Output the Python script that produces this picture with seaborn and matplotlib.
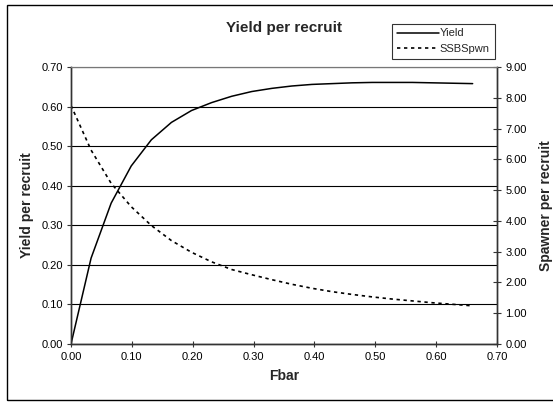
import matplotlib
matplotlib.use("Agg")
import matplotlib.pyplot as plt
import seaborn as sns
import pandas as pd
from matplotlib.patches import Rectangle

fbar = [0.000, 0.033, 0.066, 0.099, 0.132, 0.165, 0.198, 0.231, 0.264, 0.297,
        0.330, 0.363, 0.396, 0.429, 0.462, 0.495, 0.528, 0.561, 0.594, 0.627, 0.660]
yield_per_recruit = [0.000, 0.217, 0.356, 0.450, 0.516, 0.560, 0.590, 0.610, 0.626, 0.638,
                     0.646, 0.652, 0.656, 0.658, 0.660, 0.661, 0.661, 0.661, 0.660, 0.659, 0.658]
ssb_per_recruit = [7.75, 6.30, 5.22, 4.46, 3.85, 3.36, 2.98, 2.67, 2.42, 2.25,
                   2.09, 1.94, 1.81, 1.70, 1.61, 1.53, 1.46, 1.40, 1.34, 1.29, 1.24]

left_ticks = [0.0, 0.1, 0.2, 0.3, 0.4, 0.5, 0.6, 0.7]
right_ticks = [0, 1, 2, 3, 4, 5, 6, 7, 8, 9]
x_ticks = [0.0, 0.1, 0.2, 0.3, 0.4, 0.5, 0.6, 0.7]

df = pd.DataFrame({"Fbar": fbar, "Yield": yield_per_recruit, "SSBSpwn": ssb_per_recruit})

sns.set_theme(style="white")
plt.rcParams["font.family"] = ["Liberation Sans", "DejaVu Sans"]

fig = plt.figure(figsize=(5.53, 4.03), dpi=100)
ax = fig.add_axes([71 / 553, 1 - 344 / 403, (497 - 71) / 553, (344 - 67) / 403])
ax2 = ax.twinx()

sns.lineplot(data=df, x="Fbar", y="Yield", ax=ax, color="black", linewidth=1.1,
             label="Yield", legend=False)
sns.lineplot(data=df, x="Fbar", y="SSBSpwn", ax=ax2, color="black", linewidth=1.2,
             linestyle=(0, (2, 2.2)), label="SSBSpwn", legend=False)

ax.set_xlim(0, 0.7)
ax.set_ylim(0, 0.7)
ax2.set_ylim(0, 9)
ax.set_xticks(x_ticks)
ax.set_yticks(left_ticks)
ax2.set_yticks(right_ticks)
ax.set_xticklabels([f"{v:.2f}" for v in x_ticks], fontsize=8)
ax.set_yticklabels([f"{v:.2f}" for v in left_ticks], fontsize=8)
ax2.set_yticklabels([f"{v:.2f}" for v in right_ticks], fontsize=8)

ax.yaxis.grid(True, color="black", linewidth=0.8)
ax.xaxis.grid(False)
ax2.grid(False)
ax.set_axisbelow(True)

for a in (ax, ax2):
    for s in a.spines.values():
        s.set_color("#333333")
        s.set_linewidth(1.0)
    a.spines["top"].set_color("#777777")
    a.spines["top"].set_linewidth(0.8)

ax.tick_params(axis="x", direction="inout", length=5, width=0.8, colors="#333333",
               labelcolor="black", pad=3, bottom=True)
ax.tick_params(axis="y", direction="out", length=3, width=0.8, colors="#333333",
               labelcolor="black", pad=3, left=True)
ax2.tick_params(axis="y", direction="inout", length=6, width=0.8, colors="#333333",
                labelcolor="black", pad=3, right=True)

ax.set_xlabel("Fbar", fontsize=10, fontweight="bold")
ax.set_ylabel("Yield per recruit", fontsize=10, fontweight="bold")
ax2.set_ylabel("Spawner per recruit", fontsize=10, fontweight="bold")
ax.xaxis.set_label_coords(0.5, -0.092)
ax.yaxis.set_label_coords(-0.088, 0.5)
ax2.yaxis.set_label_coords(1.099, 0.5)

fig.text(284 / 553, 1 - 28 / 403, "Yield per recruit", ha="center", va="center",
         fontsize=11, fontweight="bold")

h1, l1 = ax.get_legend_handles_labels()
h2, l2 = ax2.get_legend_handles_labels()
leg = fig.legend(h1 + h2, l1 + l2, loc="upper left",
                 bbox_to_anchor=(392 / 553, 1 - 23.5 / 403), fontsize=8,
                 frameon=True, fancybox=False, handlelength=3.8, handletextpad=0.05,
                 borderpad=0.45, labelspacing=0.45, borderaxespad=0)
leg.get_frame().set_edgecolor("black")
leg.get_frame().set_linewidth(0.8)

fig.patches.append(Rectangle((7 / 553, 1 - 400 / 403), (560 - 7) / 553, (400 - 5) / 403,
                             transform=fig.transFigure, fill=False, edgecolor="black",
                             linewidth=1.0, clip_on=False))

fig.savefig("out.png", dpi=100)
